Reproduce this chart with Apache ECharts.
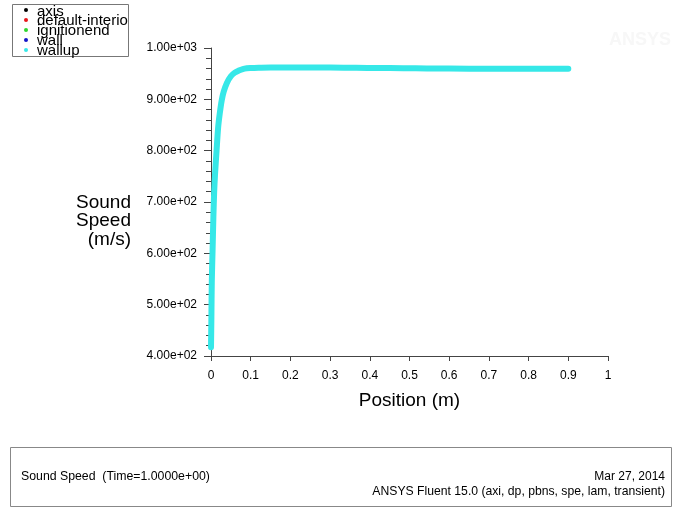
<!DOCTYPE html>
<html>
<head>
<meta charset="utf-8">
<script src="https://cdn.jsdelivr.net/npm/echarts@6/dist/echarts.min.js"></script>
<style>
  html, body { margin: 0; padding: 0; background: #fff; }
  #chart { width: 680px; height: 508px; }
</style>
</head>
<body>
<div id="chart"></div>
<script>
// Sound speed along the wallup zone
const positions = [0, 0.001, 0.002, 0.004, 0.006, 0.008, 0.01, 0.014, 0.018, 0.022, 0.027, 0.032, 0.04, 0.05, 0.06, 0.07, 0.08, 0.09, 0.1, 0.12, 0.15, 0.2, 0.25, 0.3, 0.35, 0.4, 0.45, 0.5, 0.55, 0.6, 0.7, 0.8, 0.9];
const soundSpeed = [417, 475, 545, 607, 671, 720, 752, 800, 845, 872, 898, 915, 932, 945, 952, 956, 959, 960.5, 961, 961.5, 962, 962, 962, 962, 961.5, 961, 961, 960.5, 960, 960, 959.5, 959.5, 959.5];

const legendNames = ['axis', 'default-interio', 'ignitionend', 'wall', 'wallup'];
const legendColors = ['#000000', '#e8161b', '#2fd62f', '#1616c8', '#36e8e8'];

const xRange = [0, 1];
const yRange = [400, 1000];

const font = 'Liberation Sans, Arial, sans-serif';

const chart = echarts.init(document.getElementById('chart'), null, { renderer: 'canvas' });

const legendGraphics = [{
  type: 'rect',
  shape: { x: 12.5, y: 4.5, width: 116, height: 52 },
  style: { fill: '#fff', stroke: '#777', lineWidth: 1 }
}];
legendNames.forEach((name, i) => {
  legendGraphics.push({
    type: 'circle',
    shape: { cx: 26, cy: 10 + i * 10, r: 2 },
    style: { fill: legendColors[i] }
  });
  legendGraphics.push({
    type: 'text',
    x: 37, y: 11.5 + i * 9.8,
    style: { text: name, font: '15px ' + font, fill: '#000', textVerticalAlign: 'middle' }
  });
});

const option = {
  animation: false,
  backgroundColor: '#fff',
  grid: { left: 211, right: 72, top: 48, bottom: 152, containLabel: false },
  xAxis: {
    type: 'value',
    min: xRange[0], max: xRange[1], interval: 0.1,
    axisLine: { show: true, lineStyle: { color: '#444', width: 1 } },
    axisTick: { show: true, length: 5, inside: false, lineStyle: { color: '#444' } },
    splitLine: { show: false },
    axisLabel: {
      margin: 14, color: '#000', fontFamily: font, fontSize: 12,
      formatter: v => String(Math.round(v * 10) / 10)
    },
    name: 'Position (m)', nameLocation: 'middle', nameGap: 35,
    nameTextStyle: { fontFamily: font, fontSize: 19, color: '#000' }
  },
  yAxis: {
    type: 'value',
    min: yRange[0], max: yRange[1], interval: 100,
    axisLine: { show: true, lineStyle: { color: '#444', width: 1 } },
    axisTick: { show: true, length: 7, lineStyle: { color: '#444' } },
    minorTick: { show: true, splitNumber: 5, length: 5, lineStyle: { color: '#444' } },
    splitLine: { show: false },
    axisLabel: {
      margin: 14, color: '#000', fontFamily: font, fontSize: 12,
      formatter: v => v.toExponential(2).replace(/e([+-])(\d)$/, 'e$10$2')
    }
  },
  graphic: [
    ...legendGraphics,
    {
      type: 'text', x: 131, y: 221,
      style: {
        text: 'Sound\nSpeed\n(m/s)', font: '19px ' + font, fill: '#000',
        textAlign: 'right', textVerticalAlign: 'middle', lineHeight: 18.5
      }
    },
    {
      type: 'text', x: 640, y: 40,
      style: { text: 'ANSYS', font: 'bold 18px ' + font, fill: '#f7f7f7', textAlign: 'center', textVerticalAlign: 'middle' }
    },
    {
      type: 'rect',
      shape: { x: 10.5, y: 447.5, width: 661, height: 59 },
      style: { fill: 'none', stroke: '#888', lineWidth: 1 }
    },
    {
      type: 'text', x: 21, y: 477,
      style: { text: 'Sound Speed  (Time=1.0000e+00)', font: '12.3px ' + font, fill: '#000', textVerticalAlign: 'middle' }
    },
    {
      type: 'text', x: 665, y: 477,
      style: { text: 'Mar 27, 2014', font: '12px ' + font, fill: '#000', textAlign: 'right', textVerticalAlign: 'middle' }
    },
    {
      type: 'text', x: 665, y: 492,
      style: { text: 'ANSYS Fluent 15.0 (axi, dp, pbns, spe, lam, transient)', font: '12.2px ' + font, fill: '#000', textAlign: 'right', textVerticalAlign: 'middle' }
    }
  ],
  series: [{
    type: 'line',
    name: 'wallup',
    data: positions.map((x, i) => [x, soundSpeed[i]]),
    showSymbol: false,
    smooth: 0.3,
    lineStyle: { color: '#36e8e8', width: 6, cap: 'round', join: 'round' },
    clip: false
  }]
};

chart.setOption(option);
</script>
</body>
</html>
